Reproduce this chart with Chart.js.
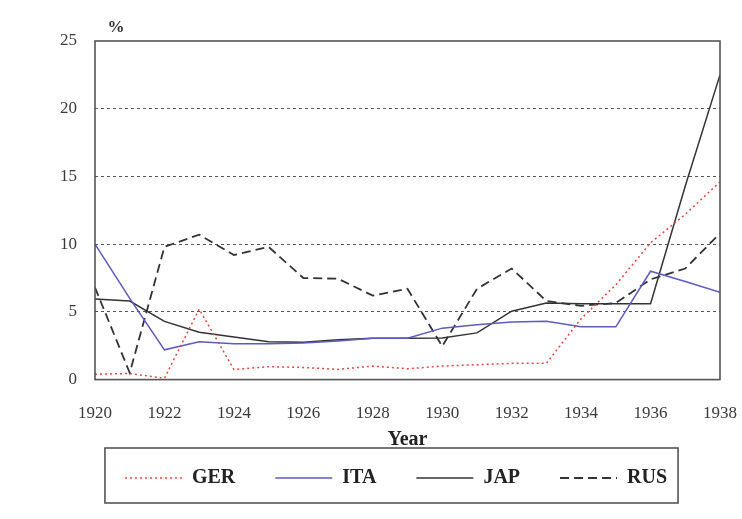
<!DOCTYPE html>
<html>
<head>
<meta charset="utf-8">
<script src="https://cdn.jsdelivr.net/npm/chart.js@4/dist/chart.umd.min.js"></script>
<style>
html,body{margin:0;padding:0;background:#fff;}
#wrap{width:742px;height:519px;}
</style>
</head>
<body>
<div id="wrap"><canvas id="c" width="742" height="519"></canvas></div>
<script>
// ---- data ----
const years = [1920,1921,1922,1923,1924,1925,1926,1927,1928,1929,1930,1931,1932,1933,1934,1935,1936,1937,1938];
const GER = [0.4,0.45,0.1,5.2,0.75,0.95,0.9,0.75,1.0,0.8,1.0,1.1,1.2,1.2,4.5,7.0,10.1,12.2,14.6];
const ITA = [10.0,6.0,2.2,2.8,2.65,2.65,2.7,2.85,3.05,3.05,3.8,4.05,4.25,4.3,3.9,3.9,8.0,7.25,6.45];
const JAP = [5.95,5.8,4.3,3.5,3.15,2.8,2.75,2.95,3.05,3.05,3.07,3.45,5.05,5.65,5.6,5.6,5.6,14.3,22.5];
const RUS = [6.8,0.5,9.8,10.7,9.2,9.8,7.5,7.45,6.2,6.7,2.46,6.7,8.2,5.8,5.45,5.65,7.4,8.2,10.8];
const seriesNames = ['GER','ITA','JAP','RUS'];
const xTickLabels = [1920,1922,1924,1926,1928,1930,1932,1934,1936,1938];
const yTickLabels = [0,5,10,15,20,25];
const yUnit = '%';
const xTitle = 'Year';

const toPts = arr => years.map((y,i)=>({x:y, y:arr[i]}));
const serif = 'Liberation Serif, Times New Roman, serif';

const framePlugin = {
  id:'frame',
  afterDatasetsDraw(chart){
    const {ctx, chartArea:a} = chart;
    ctx.save();
    ctx.strokeStyle = '#555';
    ctx.lineWidth = 1.6;
    ctx.strokeRect(a.left, a.top, a.right-a.left, a.bottom-a.top);
    ctx.restore();
  },
  afterDraw(chart){
    const {ctx, chartArea:a} = chart;
    ctx.save();
    ctx.fillStyle = '#333';
    ctx.font = 'bold 17px ' + serif;
    ctx.textAlign = 'center';
    ctx.textBaseline = 'middle';
    ctx.fillText(yUnit, a.left + 21, a.top - 13);
    // legend border
    const hb = chart.legend && chart.legend.legendHitBoxes;
    if (hb && hb.length){
      let l = Infinity, r = -Infinity, t = Infinity, b = -Infinity;
      hb.forEach(h=>{ l=Math.min(l,h.left); r=Math.max(r,h.left+h.width); t=Math.min(t,h.top); b=Math.max(b,h.top+h.height); });
      ctx.strokeStyle = '#555';
      ctx.lineWidth = 1.6;
      ctx.strokeRect(l-20, t-20, (r+11)-(l-20), (b+15)-(t-20));
    }
    ctx.restore();
  }
};

new Chart(document.getElementById('c'), {
  type:'line',
  data:{
    datasets:[
      {label:seriesNames[0], data:toPts(GER), borderColor:'#e8453c', backgroundColor:'#e8453c', borderWidth:1.5, borderDash:[2,3], pointRadius:0, tension:0},
      {label:seriesNames[1], data:toPts(ITA), borderColor:'#5b5bc0', backgroundColor:'#5b5bc0', borderWidth:1.5, pointRadius:0, tension:0},
      {label:seriesNames[2], data:toPts(JAP), borderColor:'#333333', backgroundColor:'#333333', borderWidth:1.5, pointRadius:0, tension:0},
      {label:seriesNames[3], data:toPts(RUS), borderColor:'#333333', backgroundColor:'#333333', borderWidth:1.8, borderDash:[9,5], pointRadius:0, tension:0}
    ]
  },
  options:{
    responsive:false,
    devicePixelRatio:1,
    animation:false,
    layout:{padding:{left:60, right:10, top:41, bottom:21}},
    plugins:{
      tooltip:{enabled:false},
      legend:{
        position:'bottom',
        labels:{
          usePointStyle:true, pointStyle:'line', pointStyleWidth:57, boxHeight:20, padding:40,
          color:'#222',
          font:{family:serif, size:20, weight:'bold'},
          generateLabels(chart){
            const items = Chart.defaults.plugins.legend.labels.generateLabels(chart);
            return items.map(it => {
              const ds = chart.data.datasets[it.datasetIndex];
              return Object.assign({}, it, {
                lineDash: ds.borderDash || [],
                lineWidth: ds.borderWidth,
                strokeStyle: ds.borderColor,
                fillStyle: 'rgba(0,0,0,0)'
              });
            });
          }
        }
      }
    },
    scales:{
      x:{
        type:'linear', min:1920, max:1938,
        afterBuildTicks(scale){ scale.ticks = xTickLabels.map(v=>({value:v})); },
        afterFit(scale){ scale.paddingRight = 22; },
        ticks:{ callback:v=>String(v), padding:24, color:'#3a3a3a', font:{family:serif, size:17}, maxRotation:0 },
        grid:{display:false, drawTicks:false},
        border:{display:false},
        title:{display:true, text:xTitle, color:'#222', font:{family:serif, size:20, weight:'bold'}, padding:{top:-20, bottom:-24}}
      },
      y:{
        min:0, max:25,
        afterBuildTicks(scale){ scale.ticks = yTickLabels.map(v=>({value:v})); },
        afterFit(scale){ scale.width = 35; },
        ticks:{ padding:18, color:'#3a3a3a', font:{family:serif, size:17} },
        grid:{
          drawTicks:false, lineWidth:1,
          color: c => (c.tick && (c.tick.value===0 || c.tick.value===25)) ? 'rgba(0,0,0,0)' : '#555'
        },
        border:{display:false, dash:[3,3]}
      }
    }
  },
  plugins:[framePlugin]
});
</script>
</body>
</html>
